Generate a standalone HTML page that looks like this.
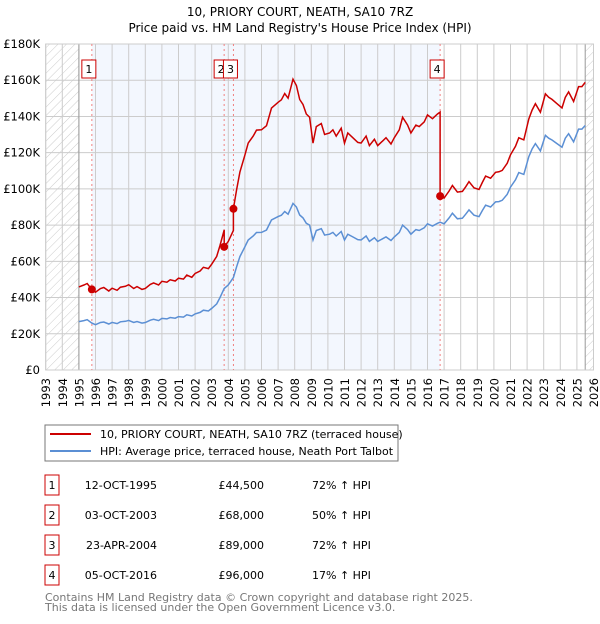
<!DOCTYPE html>
<html><head><meta charset="utf-8"><style>
body{margin:0;background:#fff;font-family:"DejaVu Sans","Liberation Sans",sans-serif;}
svg text{font-family:"DejaVu Sans","Liberation Sans",sans-serif;}
</style></head><body>
<svg id="c" width="600" height="620" xmlns="http://www.w3.org/2000/svg">
<defs><pattern id="hatch" width="6" height="6" patternUnits="userSpaceOnUse" patternTransform="rotate(45)"><line x1="0" y1="0" x2="0" y2="6" stroke="#ccc" stroke-width="1"/></pattern></defs>
<text x="300" y="16" text-anchor="middle" font-size="12">10, PRIORY COURT, NEATH, SA10 7RZ</text>
<text x="300" y="32" text-anchor="middle" font-size="12">Price paid vs. HM Land Registry's House Price Index (HPI)</text>
<g id="plot"></g>
<rect x="45" y="425" width="353" height="36" fill="#fff" stroke="#777"/>
<line x1="50" y1="434" x2="91" y2="434" stroke="#cc0000" stroke-width="2"/>
<text x="100" y="438" font-size="11">10, PRIORY COURT, NEATH, SA10 7RZ (terraced house)</text>
<line x1="50" y1="451" x2="91" y2="451" stroke="#5b8fd4" stroke-width="2"/>
<text x="100" y="455" font-size="11">HPI: Average price, terraced house, Neath Port Talbot</text>
<g id="tbl"></g>
<text x="45" y="601" font-size="11" fill="#777">Contains HM Land Registry data © Crown copyright and database right 2025.</text>
<text x="45" y="611" font-size="11" fill="#777">This data is licensed under the Open Government Licence v3.0.</text>
</svg>
<script>
const hpiYears=[1995,1995.3,1995.5,1995.78,1996,1996.3,1996.5,1996.8,1997,1997.3,1997.5,1997.8,1998,1998.3,1998.5,1998.8,1999,1999.3,1999.5,1999.8,2000,2000.3,2000.5,2000.8,2001,2001.3,2001.5,2001.8,2002,2002.3,2002.5,2002.8,2003,2003.3,2003.5,2003.75,2004,2004.31,2004.5,2004.7,2005,2005.2,2005.5,2005.7,2006,2006.3,2006.6,2007,2007.2,2007.4,2007.6,2007.9,2008.1,2008.3,2008.5,2008.7,2008.9,2009.1,2009.3,2009.6,2009.8,2010.1,2010.3,2010.5,2010.8,2011,2011.2,2011.5,2011.8,2012,2012.3,2012.5,2012.8,2013,2013.3,2013.5,2013.8,2014,2014.3,2014.5,2014.8,2015,2015.3,2015.5,2015.8,2016,2016.3,2016.6,2016.76,2017,2017.3,2017.5,2017.8,2018.1,2018.3,2018.5,2018.8,2019.1,2019.3,2019.5,2019.8,2020.1,2020.3,2020.5,2020.8,2021,2021.3,2021.5,2021.8,2022.1,2022.3,2022.5,2022.8,2023.1,2023.3,2023.5,2023.8,2024.1,2024.3,2024.5,2024.8,2025.1,2025.3,2025.5];
const hpiValues=[26.7,27.3,27.8,25.9,25,26.2,26.5,25.4,26.3,25.6,26.6,26.9,27.4,26.2,26.8,25.9,26.2,27.5,28,27.3,28.5,28.2,29,28.6,29.5,29.2,30.5,29.8,31,31.8,33,32.6,34,36.5,40,45,47,51,57,62.6,68,71.8,74,75.9,76,77.3,82.9,84.7,85.5,87.5,86,92,90,85.6,84,81,80,71.8,77,78,74.5,75,76,74,76.5,71.8,75,73.5,72,71.8,74,71,73,71,72.5,73.5,71.5,73.5,76,80,77.5,75,77.5,77,78.5,80.7,79.5,81,81.6,80.7,84,86.6,83.5,83.8,86,88.4,85.5,84.7,88,91,90,92.8,93,93.7,97,101,105,109,108,117.8,122,125,121,129.6,128,127,125,123,128,130.5,126,133,133,135];
const saleYears=[1995.78,2003.75,2004.31,2016.76];
const salePrices=[44500,68000,89000,96000];
const saleLabels=["1","2","3","4"];
const saleDates=["12-OCT-1995","03-OCT-2003","23-APR-2004","05-OCT-2016"];
const salePriceText=["£44,500","£68,000","£89,000","£96,000"];
const saleHpiText=["72% ↑ HPI","50% ↑ HPI","72% ↑ HPI","17% ↑ HPI"];
const yTicks=[0,20000,40000,60000,80000,100000,120000,140000,160000,180000];
const yTickLabels=["£0","£20K","£40K","£60K","£80K","£100K","£120K","£140K","£160K","£180K"];
const xYears=[];for(let y=1993;y<=2026;y++)xYears.push(y);

const X0=45.7,PX=16.6,Y0=370,YTOP=44;
const xs=y=>X0+(y-1993)*PX;
const ys=v=>Y0-(v/180000)*(Y0-YTOP);
const NS="http://www.w3.org/2000/svg";
const plot=document.getElementById('plot');
function mk(tag,attrs,parent){const e=document.createElementNS(NS,tag);for(const k in attrs)e.setAttribute(k,attrs[k]);(parent||plot).appendChild(e);return e;}
function hpiAt(t){for(let i=0;i<hpiYears.length-1;i++){if(t<=hpiYears[i+1]){const f=(t-hpiYears[i])/(hpiYears[i+1]-hpiYears[i]);return (hpiValues[i]+f*(hpiValues[i+1]-hpiValues[i]))*1000;}}return hpiValues[hpiValues.length-1]*1000;}

const R=xs(2026);
let e=mk('rect',{x:X0,y:YTOP,width:R-X0,height:Y0-YTOP,fill:'#fff'});


e=mk('rect',{x:xs(saleYears[0]),y:YTOP,width:xs(saleYears[3])-xs(saleYears[0]),height:Y0-YTOP,fill:'#eef3fd',opacity:0.7});


e=mk('rect',{x:X0,y:YTOP,width:xs(1995)-X0,height:Y0-YTOP,fill:'url(#hatch)'});


e=mk('rect',{x:xs(2025.5),y:YTOP,width:R-xs(2025.5),height:Y0-YTOP,fill:'url(#hatch)'});


xYears.forEach(y=>{
  e=mk('line',{x1:xs(y),x2:xs(y),y1:YTOP,y2:Y0,stroke:'#ccc','stroke-width':1});
  
  
  const tx=xs(y)+4.5;
  e=mk('text',{x:tx,y:378,'text-anchor':'end','font-size':11.5,transform:'rotate(-90 '+tx+' 378)'});
  e.textContent=y;
  
  
});
yTicks.forEach((v,i)=>{
  e=mk('line',{x1:X0,x2:R,y1:ys(v),y2:ys(v),stroke:'#ccc','stroke-width':1});
  
  
  e=mk('text',{x:40,y:ys(v)+4,'text-anchor':'end','font-size':11.5});
  e.textContent=yTickLabels[i];
  
  
});
e=mk('line',{x1:xs(1995),x2:xs(1995),y1:YTOP,y2:Y0,stroke:'#999'});


e=mk('line',{x1:xs(2025.5),x2:xs(2025.5),y1:YTOP,y2:Y0,stroke:'#999'});


e=mk('rect',{x:X0,y:YTOP,width:R-X0,height:Y0-YTOP,fill:'none',stroke:'#ccc'});



saleYears.forEach((t,i)=>{
  e=mk('line',{x1:xs(t),x2:xs(t),y1:YTOP,y2:Y0,stroke:'#f08080','stroke-dasharray':'2,3'});
  
  
});
let d=hpiYears.map((t,i)=>(i?'L':'M')+xs(t).toFixed(1)+','+ys(hpiValues[i]*1000).toFixed(1)).join('');
e=mk('path',{d:d,fill:'none',stroke:'#5b8fd4','stroke-width':1.5});


function seg(t){let k=0;for(let i=0;i<saleYears.length;i++)if(t>=saleYears[i])k=i;return k;}
const pts=[];
hpiYears.forEach((t,i)=>{
  const k=seg(t);
  if(k>0&&pts.length&&pts[pts.length-1].k!==k){const tk=saleYears[k];pts.push({t:tk,v:salePrices[k-1]*hpiAt(tk)/hpiAt(saleYears[k-1]),k:k-1});pts.push({t:tk,v:salePrices[k],k:k});}
  pts.push({t:t,v:salePrices[k]*hpiValues[i]*1000/hpiAt(saleYears[k]),k:k});
});
d=pts.map((p,i)=>(i?'L':'M')+xs(p.t).toFixed(1)+','+ys(p.v).toFixed(1)).join('');
e=mk('path',{d:d,fill:'none',stroke:'#cc0000','stroke-width':1.5});


saleYears.forEach((t,i)=>{
  e=mk('circle',{cx:xs(t),cy:ys(salePrices[i]),r:4,fill:'#cc0000'});
  
  
  e=mk('rect',{x:xs(t)-10,y:60,width:14,height:18,fill:'#fff',stroke:'#cc0000'});
  
  
  e=mk('text',{x:xs(t)-3,y:73,'text-anchor':'middle','font-size':11});
  e.textContent=saleLabels[i];
  
  
});
const tbl=document.getElementById('tbl');
saleYears.forEach((t,i)=>{
  const yy=475+i*30;
  e=mk('rect',{x:45,y:yy,width:14,height:20,fill:'#fff',stroke:'#cc0000'},tbl);
  
  
  e=mk('text',{x:52,y:yy+14,'text-anchor':'middle','font-size':11},tbl);e.textContent=saleLabels[i];
  
  
  e=mk('text',{x:157,y:yy+14,'text-anchor':'end','font-size':11},tbl);e.textContent=saleDates[i];
  
  
  e=mk('text',{x:264,y:yy+14,'text-anchor':'end','font-size':11},tbl);e.textContent=salePriceText[i];
  
  
  e=mk('text',{x:312,y:yy+14,'font-size':11},tbl);e.textContent=saleHpiText[i];
  
  
});
</script>
</body></html>
